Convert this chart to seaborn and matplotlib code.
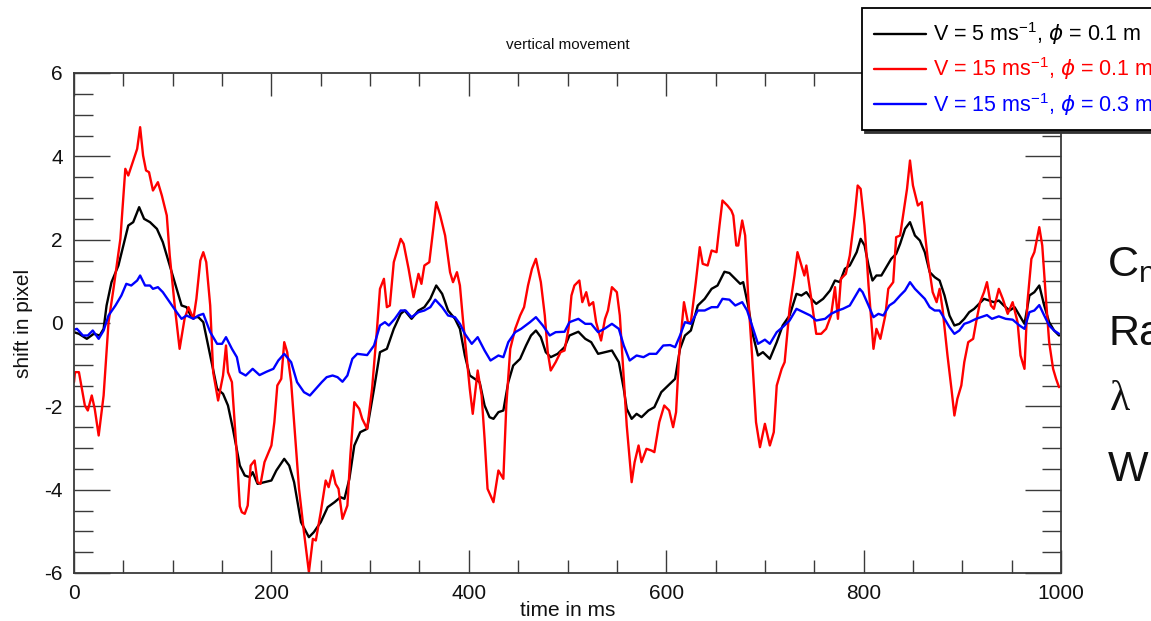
import numpy as np
import pandas as pd
import matplotlib
matplotlib.use("Agg")
import matplotlib.pyplot as plt
import seaborn as sns
from matplotlib.ticker import MultipleLocator

# ---------------- data ----------------
series_labels = [r"V = 5 ms$^{-1}$, $\mathit{\phi}$ = 0.1 m",
                 r"V = 15 ms$^{-1}$, $\mathit{\phi}$ = 0.1 m",
                 r"V = 15 ms$^{-1}$, $\mathit{\phi}$ = 0.3 m"]
series_colors = ["#000000", "#ff0000", "#0000ff"]

t_black = [0, 5, 13, 20, 26, 30, 33, 38, 45, 50, 55, 60, 66, 71, 77, 84, 90, 97, 104, 109,
           114, 119, 126, 131, 138, 145, 151, 156, 161, 168, 173, 178, 181, 186, 193, 200, 205,
           213, 218, 223, 230, 238, 243, 250, 257, 264, 270, 274, 279, 284, 290, 297, 304, 310,
           317, 324, 331, 335, 342, 349, 355, 361, 367, 373, 379, 386, 391, 396, 401, 406, 411,
           416, 421, 425, 430, 435, 440, 445, 452, 458, 463, 468, 473, 478, 483, 490, 497, 502,
           511, 518, 524, 531, 538, 545, 552, 557, 560, 565, 570, 575, 582, 588, 595, 602, 609,
           614, 619, 625, 632, 639, 646, 652, 659, 664, 670, 675, 678, 683, 688, 693, 698, 705,
           712, 718, 725, 732, 737, 742, 747, 752, 759, 766, 771, 776, 781, 786, 793, 797, 801,
           805, 809, 813, 818, 823, 828, 833, 837, 842, 847, 852, 857, 862, 867, 872, 877, 882,
           887, 892, 897, 902, 907, 912, 917, 922, 927, 932, 937, 942, 948, 953, 958, 963, 968,
           973, 978, 983, 988, 993, 998]
v_black = [-0.22, -0.26, -0.38, -0.26, -0.3, -0.14, 0.42, 0.98, 1.38, 1.86, 2.34, 2.42, 2.78, 2.5,
           2.42, 2.26, 1.94, 1.38, 0.82, 0.42, 0.38, 0.14, 0.14, 0.02, -0.78, -1.58, -1.7, -1.98,
           -2.54, -3.42, -3.66, -3.7, -3.58, -3.86, -3.82, -3.78, -3.54, -3.26, -3.42, -3.82,
           -4.78, -5.14, -5.02, -4.78, -4.42, -4.3, -4.18, -4.22, -3.74, -2.94, -2.62, -2.54,
           -1.58, -0.7, -0.62, -0.14, 0.22, 0.3, 0.1, 0.3, 0.38, 0.58, 0.9, 0.7, 0.3, 0.1, -0.14,
           -0.78, -1.26, -1.34, -1.42, -1.98, -2.26, -2.3, -2.14, -2.1, -1.42, -1.02, -0.86, -0.54,
           -0.3, -0.18, -0.34, -0.7, -0.82, -0.74, -0.58, -0.3, -0.21, -0.38, -0.46, -0.74, -0.7,
           -0.66, -0.94, -1.58, -2.06, -2.3, -2.18, -2.26, -2.1, -2.02, -1.66, -1.5, -1.34, -0.62,
           -0.3, -0.18, 0.42, 0.58, 0.82, 0.9, 1.23, 1.2, 1.06, 0.94, 0.98, 0.42, -0.3, -0.78,
           -0.7, -0.86, -0.46, -0.06, 0.18, 0.7, 0.66, 0.74, 0.58, 0.46, 0.58, 0.78, 1.02, 0.98,
           1.3, 1.38, 1.7, 2.02, 1.86, 1.38, 1.02, 1.14, 1.14, 1.34, 1.54, 1.66, 1.9, 2.26, 2.42,
           2.1, 1.98, 1.7, 1.22, 1.1, 1.02, 0.66, 0.18, -0.06, -0.02, 0.1, 0.26, 0.34, 0.46, 0.58,
           0.54, 0.5, 0.54, 0.42, 0.3, 0.38, 0.18, -0.02, 0.66, 0.74, 0.9, 0.42, 0.02, -0.18, -0.3]

t_red = [0, 1, 5, 11, 14, 18, 21, 25, 30, 35, 40, 47, 52, 55, 60, 64, 67, 70, 73, 76, 80, 85,
         89, 94, 97, 102, 107, 112, 116, 121, 124, 128, 131, 134, 138, 141, 146, 151, 154, 156,
         160, 165, 168, 170, 173, 176, 179, 183, 186, 189, 193, 200, 203, 206, 210, 213, 216, 220,
         223, 228, 233, 238, 242, 245, 250, 255, 258, 262, 265, 268, 272, 277, 280, 284, 289, 292,
         297, 302, 307, 310, 314, 317, 320, 324, 327, 331, 334, 339, 344, 349, 352, 355, 360, 364,
         367, 371, 376, 381, 384, 388, 391, 394, 398, 401, 404, 409, 413, 416, 419, 425, 430, 435,
         438, 442, 447, 452, 456, 460, 464, 468, 473, 477, 480, 483, 488, 493, 497, 501, 504, 507,
         512, 515, 519, 522, 526, 529, 534, 538, 541, 545, 550, 553, 557, 560, 565, 568, 572, 575,
         580, 585, 588, 593, 598, 603, 607, 610, 613, 618, 622, 625, 630, 634, 637, 642, 646, 651,
         654, 657, 662, 666, 668, 671, 673, 677, 680, 683, 687, 691, 695, 700, 705, 709, 712, 717,
         720, 725, 730, 733, 737, 740, 742, 747, 752, 757, 762, 767, 771, 774, 777, 782, 786, 791,
         794, 797, 801, 805, 810, 813, 817, 822, 825, 830, 833, 837, 840, 844, 847, 850, 855, 859,
         862, 865, 870, 874, 877, 880, 885, 889, 892, 895, 899, 902, 906, 911, 914, 918, 922, 925,
         929, 932, 937, 941, 946, 951, 956, 959, 963, 966, 970, 973, 978, 981, 985, 988, 992, 995,
         998]
v_red = [-1.42, -1.18, -1.18, -1.98, -2.1, -1.74, -2.06, -2.7, -1.74, 0.02, 0.82, 2.02, 3.7, 3.54,
         3.9, 4.18, 4.7, 4.02, 3.66, 3.62, 3.18, 3.38, 3.06, 2.58, 1.62, 0.42, -0.62, 0.1, 0.38,
         0.1, 0.58, 1.5, 1.7, 1.46, 0.42, -1.18, -1.86, -1.26, -0.54, -1.18, -1.42, -3.18, -4.4,
         -4.54, -4.58, -4.38, -3.42, -3.3, -3.82, -3.86, -3.34, -2.94, -2.38, -1.5, -1.34, -0.46,
         -0.7, -1.42, -2.38, -3.98, -5.02, -5.98, -5.18, -5.22, -4.54, -3.78, -3.94, -3.54, -3.86,
         -3.98, -4.7, -4.38, -3.18, -1.9, -2.06, -2.3, -2.54, -1.58, -0.14, 0.82, 1.06, 0.38, 0.42,
         1.46, 1.7, 2.02, 1.9, 1.3, 0.62, 1.18, 0.94, 1.38, 1.46, 2.26, 2.9, 2.58, 2.1, 1.22, 0.98,
         1.22, 0.9, 0.1, -0.86, -1.58, -2.18, -1.14, -1.74, -2.78, -3.98, -4.3, -3.54, -3.74, -1.98,
         -0.62, -0.14, 0.18, 0.38, 0.9, 1.3, 1.54, 0.98, 0.18, -0.7, -1.14, -0.94, -0.7, -0.66,
         -0.14, 0.66, 0.9, 1.02, 0.5, 0.74, 0.42, 0.5, 0.02, -0.42, 0.1, 0.3, 0.86, 0.74, 0.18,
         -1.34, -2.46, -3.82, -3.34, -2.94, -3.34, -3.02, -3.06, -3.1, -2.38, -1.98, -2.1, -2.5,
         -2.14, -0.78, 0.5, 0.02, 0.02, 0.98, 1.82, 1.42, 1.38, 1.74, 1.7, 2.34, 2.94, 2.82, 2.7,
         2.58, 1.86, 1.86, 2.46, 2.1, 0.66, -0.78, -2.38, -2.98, -2.42, -2.94, -2.62, -1.5, -1.1,
         -0.94, 0.34, 1.14, 1.7, 1.38, 1.14, 1.38, 0.58, -0.26, -0.26, -0.14, 0.18, 0.86, 0.1,
         1.06, 1.18, 1.62, 2.58, 3.3, 3.22, 2.34, 0.9, -0.62, -0.14, -0.38, 0.18, 0.82, 0.98, 2.06,
         2.1, 2.58, 3.22, 3.9, 3.3, 2.82, 2.9, 2.18, 1.54, 0.74, 0.5, 0.82, 0.34, -0.78, -1.58,
         -2.22, -1.82, -1.5, -0.94, -0.46, -0.38, 0.02, 0.5, 0.74, 0.98, 0.42, 0.34, 0.82, 0.58,
         0.22, 0.5, 0.02, -0.78, -1.1, 0.5, 1.54, 1.7, 2.3, 1.86, 0.5, -0.46, -1.1, -1.34, -1.54]

t_blue = [0, 3, 9, 14, 19, 25, 30, 35, 42, 48, 53, 58, 64, 67, 72, 77, 80, 85, 90, 97, 104, 109,
          114, 121, 126, 131, 138, 145, 150, 154, 160, 165, 168, 174, 181, 188, 195, 202, 207, 213,
          220, 226, 233, 239, 245, 251, 256, 262, 267, 272, 277, 282, 287, 297, 304, 310, 315, 319,
          325, 331, 336, 342, 349, 355, 361, 366, 373, 379, 386, 391, 396, 403, 409, 416, 422, 430,
          435, 440, 447, 453, 462, 468, 475, 482, 488, 497, 502, 511, 518, 524, 531, 538, 545, 552,
          557, 563, 570, 577, 583, 590, 597, 604, 609, 614, 619, 625, 632, 639, 646, 652, 657, 664,
          670, 677, 682, 688, 693, 700, 705, 712, 718, 725, 732, 739, 746, 752, 761, 767, 774, 779,
          786, 791, 796, 799, 805, 810, 815, 820, 826, 831, 837, 842, 847, 852, 857, 862, 867, 872,
          877, 882, 887, 892, 897, 902, 907, 914, 919, 925, 930, 937, 944, 951, 958, 963, 968, 973,
          978, 983, 988, 993, 998]
v_blue = [-0.16, -0.14, -0.3, -0.3, -0.18, -0.38, -0.18, 0.18, 0.42, 0.66, 0.94, 0.9, 1.02, 1.14,
          0.9, 0.9, 0.82, 0.86, 0.74, 0.5, 0.26, 0.1, 0.18, 0.1, 0.18, 0.22, -0.22, -0.5, -0.5,
          -0.34, -0.62, -0.82, -1.18, -1.26, -1.1, -1.25, -1.17, -1.1, -0.9, -0.74, -0.94, -1.42,
          -1.66, -1.74, -1.58, -1.42, -1.3, -1.26, -1.3, -1.41, -1.26, -0.86, -0.74, -0.77, -0.54,
          -0.06, 0.02, -0.06, 0.1, 0.3, 0.3, 0.14, 0.26, 0.3, 0.38, 0.56, 0.38, 0.18, 0.14, -0.02,
          -0.26, -0.5, -0.34, -0.66, -0.9, -0.78, -0.82, -0.46, -0.22, -0.14, 0.02, 0.14, -0.06,
          -0.3, -0.22, -0.21, 0.02, 0.1, -0.02, -0.02, -0.22, -0.13, -0.02, -0.14, -0.54, -0.9,
          -0.78, -0.82, -0.74, -0.74, -0.54, -0.53, -0.58, -0.3, 0.02, -0.02, 0.3, 0.3, 0.38, 0.38,
          0.58, 0.56, 0.42, 0.5, 0.3, -0.14, -0.5, -0.4, -0.5, -0.22, -0.1, 0.06, 0.34, 0.26, 0.18,
          0.06, 0.1, 0.22, 0.3, 0.34, 0.42, 0.62, 0.82, 0.74, 0.42, 0.14, 0.22, 0.18, 0.42, 0.5,
          0.66, 0.78, 0.98, 0.82, 0.7, 0.58, 0.38, 0.3, 0.3, 0.1, -0.1, -0.26, -0.18, -0.02, 0.02,
          0.1, 0.14, 0.19, 0.1, 0.16, 0.1, 0.08, -0.06, -0.14, 0.26, 0.3, 0.43, 0.18, -0.06, -0.18,
          -0.26]

x_ticks = [0, 200, 400, 600, 800, 1000]
y_ticks = [-6, -4, -2, 0, 2, 4, 6]
side_text = ["Ra", "W"]

# ---------------- style ----------------
sns.set_style("ticks")
plt.rcParams["font.family"] = ["Liberation Sans", "DejaVu Sans"]
plt.rcParams["mathtext.fontset"] = "custom"
plt.rcParams["mathtext.rm"] = "Liberation Sans"
plt.rcParams["mathtext.it"] = "DejaVu Sans:italic"
plt.rcParams["mathtext.default"] = "regular"
plt.rcParams["axes.unicode_minus"] = False

fig = plt.figure(figsize=(11.51, 6.21), dpi=100)
fig.patch.set_facecolor("white")
ax = fig.add_axes([74 / 1151, 1 - 573 / 621, 987 / 1151, 500 / 621])

df = pd.concat([
    pd.DataFrame({"t": t_black, "v": v_black, "s": series_labels[0]}),
    pd.DataFrame({"t": t_red, "v": v_red, "s": series_labels[1]}),
    pd.DataFrame({"t": t_blue, "v": v_blue, "s": series_labels[2]}),
], ignore_index=True)

sns.lineplot(data=df, x="t", y="v", hue="s", hue_order=series_labels,
             palette=series_colors, estimator=None, sort=False, lw=1.7,
             ax=ax, legend=False)

ax.set_xlim(0, 1000)
ax.set_ylim(-6, 6)
ax.set_xticks(x_ticks)
ax.set_yticks(y_ticks)
ax.xaxis.set_minor_locator(MultipleLocator(50))
ax.yaxis.set_minor_locator(MultipleLocator(0.5))

spine_col = "#3a3a3a"
for sp in ax.spines.values():
    sp.set_color(spine_col)
    sp.set_linewidth(1.3)
ax.tick_params(which="both", direction="in", top=True, right=True,
               color=spine_col, width=1.0, labelsize=15, labelcolor="#111111")
ax.tick_params(axis="y", which="major", length=26, pad=8)
ax.tick_params(axis="y", which="minor", length=13.5)
ax.tick_params(axis="x", which="major", length=16.5, pad=8)
ax.tick_params(axis="x", which="minor", length=9.5)

ax.set_title("vertical movement", fontsize=11, pad=17, color="#111111")
ax.set_xlabel("time in ms", fontsize=15, color="#111111")
ax.set_ylabel("shift in pixel", fontsize=15, color="#111111")
ax.xaxis.set_label_coords(0.5, -0.056)
ax.yaxis.set_label_coords(-0.042, 0.5)

handles = ax.get_lines()[:3]
leg = ax.legend(handles, series_labels, loc="upper left",
                bbox_to_anchor=(862 / 1151, 1 - 8 / 621), bbox_transform=fig.transFigure,
                borderaxespad=0, fontsize=15.5, frameon=True, fancybox=False,
                shadow={"color": "#333333", "alpha": 1.0}, framealpha=1,
                edgecolor="black", handlelength=2.4, handletextpad=0.3,
                borderpad=0.58, labelspacing=0.38, labelcolor="linecolor")
leg.get_frame().set_linewidth(1.3)

# cropped slide text on the right
fig.text(1107 / 1151, 1 - 276 / 621, r"C$_\mathregular{n}$", fontsize=31, color="#111111")
fig.text(1108 / 1151, 1 - 345 / 621, side_text[0], fontsize=31, color="#111111")
fig.text(1110 / 1151, 1 - 410 / 621, "λ", fontsize=30, color="#111111",
         family=["Liberation Serif", "DejaVu Serif"])
fig.text(1108 / 1151, 1 - 481 / 621, side_text[1], fontsize=31, color="#111111")

fig.savefig("out.png", dpi=100, facecolor="white")
